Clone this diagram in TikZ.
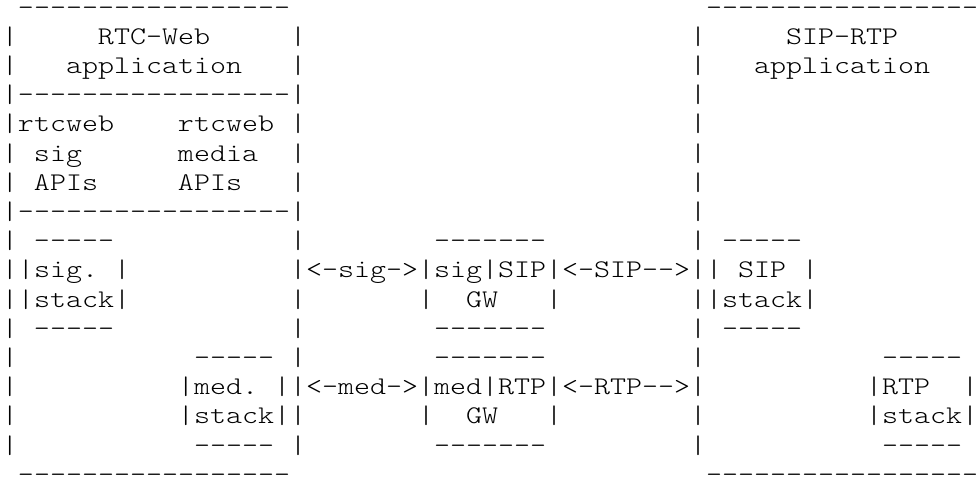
\documentclass[tikz,border=0pt]{standalone}

% light typewriter face, widened to an 8pt character cell
\font\asciifont="[lmmonolt10-regular.otf]:extend=1.2" at 12.7pt

\begin{document}
\begin{tikzpicture}[
    x=8pt, y=-14.6pt,
    ascii/.style={
        inner sep=0pt, outer sep=0pt, anchor=base west,
        font=\asciifont\frenchspacing
    }
]
\useasboundingbox (-1pt,-7.1pt) rectangle (487pt,-245.6pt);

% RTC-Web application box
\node[ascii] (webtop)  at (1,1)  {-----------------};
\node[ascii] (websep)  at (1,4)  {-----------------};
\node[ascii] (webmid)  at (1,8)  {-----------------};
\node[ascii] (webbot)  at (1,17) {-----------------};
\foreach \r in {2,...,16} {
    \node[ascii] (webl\r) at (0,\r)  {|};
    \node[ascii] (webr\r) at (18,\r) {|};
}
\node[ascii] (webname) at (6,2)  {RTC-Web};
\node[ascii] (webapp)  at (4,3)  {application};
\node[ascii] (sigapi1) at (1,5)  {rtcweb};
\node[ascii] (sigapi2) at (2,6)  {sig};
\node[ascii] (sigapi3) at (2,7)  {APIs};
\node[ascii] (medapi1) at (11,5) {rtcweb};
\node[ascii] (medapi2) at (11,6) {media};
\node[ascii] (medapi3) at (11,7) {APIs};

\node[ascii] (sigtop)   at (2,9)   {-----};
\node[ascii] (sigstack) at (1,10)  {|sig. |};
\node[ascii] (sigstk)   at (1,11)  {|stack|};
\node[ascii] (sigbot)   at (2,12)  {-----};

\node[ascii] (medtop)   at (12,13) {-----};
\node[ascii] (medstack) at (11,14) {|med. |};
\node[ascii] (medstk)   at (11,15) {|stack|};
\node[ascii] (medbot)   at (12,16) {-----};

% gateways in the middle
\node[ascii] (sigarrow)  at (19,10) {<-sig->};
\node[ascii] (siggwtop)  at (27,9)  {-------};
\node[ascii] (siggw)     at (26,10) {|sig|SIP|};
\node[ascii] (siggwl)    at (26,11) {|};
\node[ascii] (siggwname) at (29,11) {GW};
\node[ascii] (siggwr)    at (34,11) {|};
\node[ascii] (siggwbot)  at (27,12) {-------};
\node[ascii] (siparrow)  at (35,10) {<-SIP-->};

\node[ascii] (medarrow)  at (19,14) {<-med->};
\node[ascii] (medgwtop)  at (27,13) {-------};
\node[ascii] (medgw)     at (26,14) {|med|RTP|};
\node[ascii] (medgwl)    at (26,15) {|};
\node[ascii] (medgwname) at (29,15) {GW};
\node[ascii] (medgwr)    at (34,15) {|};
\node[ascii] (medgwbot)  at (27,16) {-------};
\node[ascii] (rtparrow)  at (35,14) {<-RTP-->};

% SIP-RTP application box
\node[ascii] (siptop)  at (44,1)  {-----------------};
\node[ascii] (sipbot)  at (44,17) {-----------------};
\foreach \r in {2,...,16}
    \node[ascii] (sipl\r) at (43,\r) {|};
\node[ascii] (sipname) at (49,2)  {SIP-RTP};
\node[ascii] (sipapp)  at (47,3)  {application};

\node[ascii] (sipstktop) at (45,9)  {-----};
\node[ascii] (sipstack)  at (44,10) {| SIP |};
\node[ascii] (sipstk)    at (44,11) {|stack|};
\node[ascii] (sipstkbot) at (45,12) {-----};

\node[ascii] (rtptop)   at (55,13) {-----};
\node[ascii] (rtpstack) at (54,14) {|RTP};
\node[ascii] (rtpr)     at (60,14) {|};
\node[ascii] (rtpstk)   at (54,15) {|stack|};
\node[ascii] (rtpbot)   at (55,16) {-----};

\end{tikzpicture}
\end{document}
